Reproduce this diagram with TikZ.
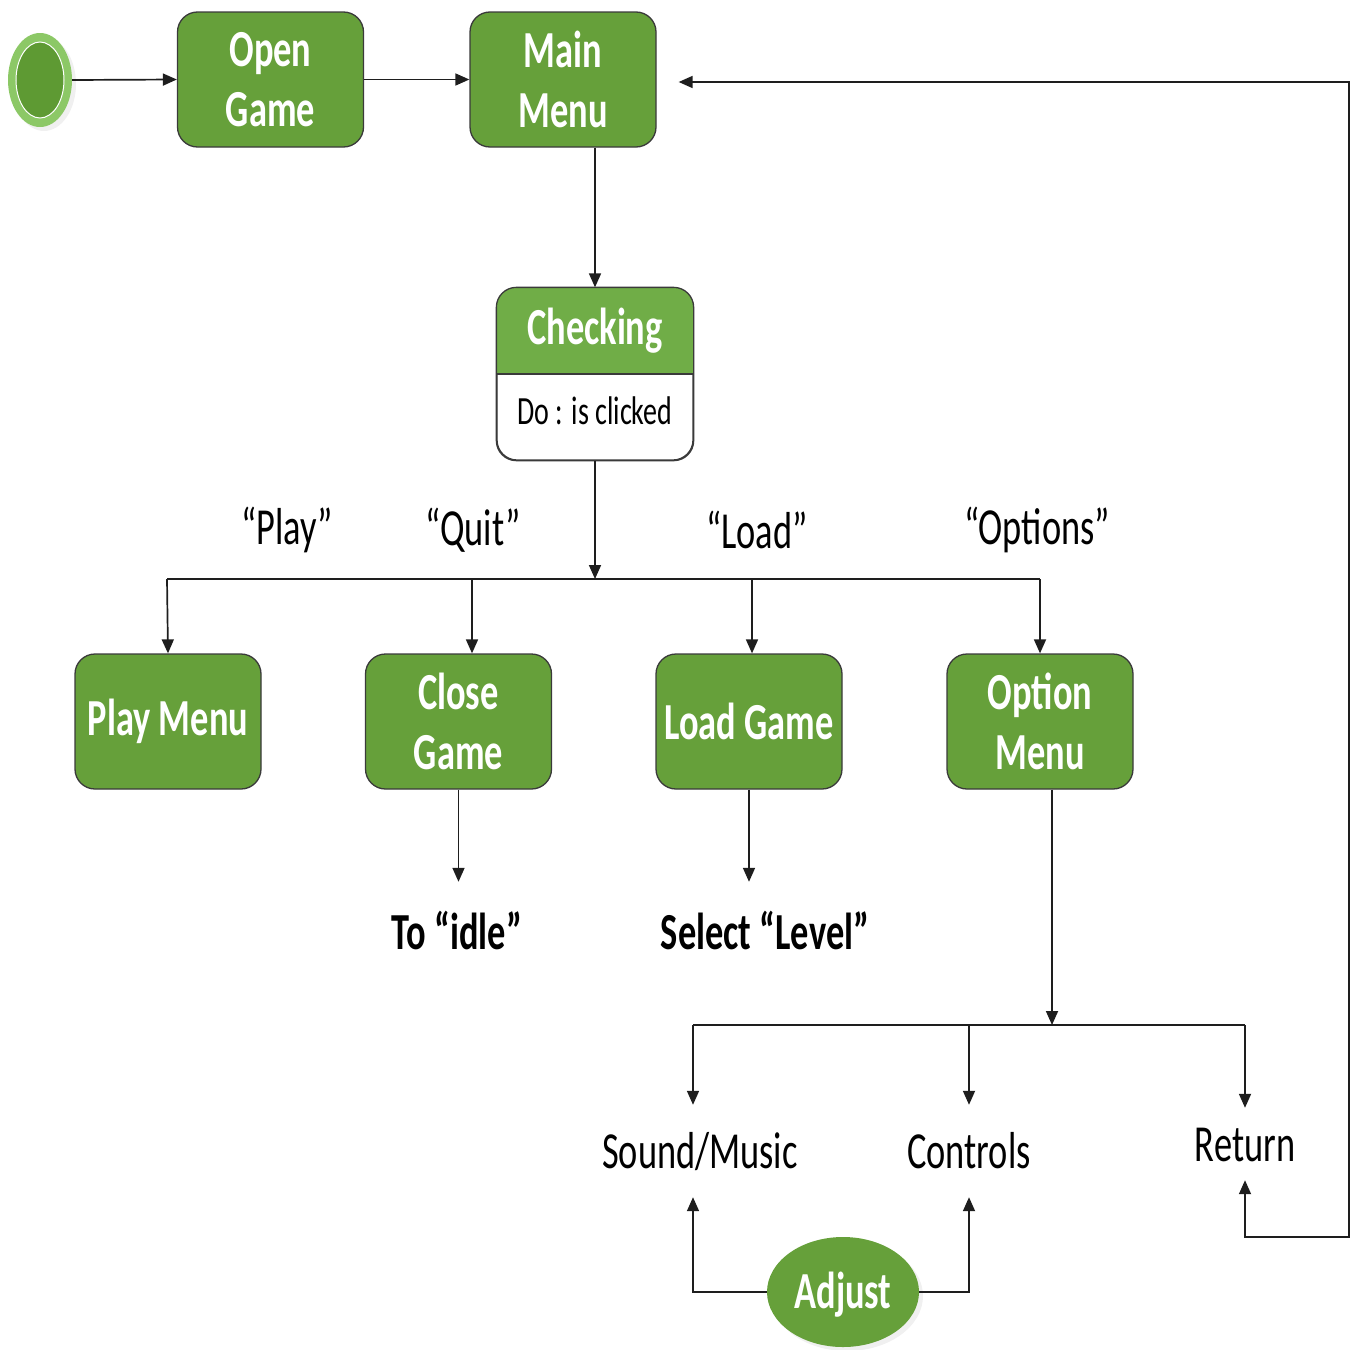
\documentclass[tikz,border=0pt]{standalone}
\usepackage{fontspec}
\setmainfont{Carlito}[FakeStretch=0.7]
\usetikzlibrary{arrows.meta,shapes.geometric,shadows,calc}
\definecolor{boxgreen}{HTML}{66A03A}
\definecolor{headgreen}{HTML}{70AD47}
\definecolor{ringgreen}{HTML}{8CC866}
\definecolor{coregreen}{HTML}{5E9A33}
\definecolor{edgegray}{HTML}{3A3A3A}
\definecolor{linegray}{HTML}{1E1E1E}
\begin{document}
\begin{tikzpicture}[x=1pt,y=-1pt,
  state/.style={draw=edgegray, line width=1.3pt, fill=boxgreen, rounded corners=20pt,
    minimum width=186pt, minimum height=135pt, inner sep=0pt, align=center,
    text=white, font=\bfseries\fontsize{52}{60}\selectfont},
  lbl/.style={inner sep=0pt, font=\fontsize{52}{60}\selectfont, text=black},
  blbl/.style={lbl, font=\bfseries\fontsize{52}{60}\selectfont},
  optlbl/.style={lbl, text height=34pt, text depth=0pt},
  line/.style={draw=linegray, line width=1.7pt},
  arr/.style={line, -{Triangle[length=14pt,width=12pt]}},
  biarr/.style={line, {Triangle[length=14pt,width=12pt]}-{Triangle[length=14pt,width=12pt]}},
  soft/.style={drop shadow={opacity=0.12, shadow xshift=4pt, shadow yshift=-4pt}}
]
\useasboundingbox (0,0) rectangle (1356,1349);

% initial state
\node[ellipse, fill=ringgreen, minimum width=64pt, minimum height=94pt, inner sep=0pt, soft] (start) at (40,80) {};
\node[ellipse, fill=coregreen, draw=white, line width=1pt, minimum width=48pt, minimum height=76pt, inner sep=0pt] (startcore) at (start.center) {};

% top row
\node[state] (open) at (270.5,79.5) {Open\\Game};
\node[state] (main) at (563,79.5) {Main\\Menu};

% checking state with header and activity compartment
\node[draw=edgegray, line width=1.3pt, fill=white, rounded corners=20pt,
      minimum width=196pt, minimum height=172pt, inner sep=0pt] (chk) at (595,374) {};
\fill[headgreen, rounded corners=20pt] (chk.north west) rectangle (chk.east);
\fill[headgreen] ([yshift=22pt]chk.west) rectangle (chk.east);
\draw[draw=edgegray, line width=1.3pt, rounded corners=20pt] (chk.north west) rectangle (chk.south east);
\draw[draw=edgegray, line width=1.3pt] (chk.west) -- (chk.east);
\node[inner sep=0pt, text=white, font=\bfseries\fontsize{52}{60}\selectfont] (chktitle) at (595,331) {Checking};
\node[inner sep=0pt, font=\fontsize{40}{48}\selectfont] (chkdo) at (595,411) {Do : is clicked};

% second row
\node[state] (play) at (168,721.5) {Play Menu};
\node[state] (close) at (458.5,721.5) {Close\\Game};
\node[state] (load) at (749,721.5) {Load Game};
\node[state] (option) at (1040,721.5) {Option\\Menu};

% choice labels
\node[lbl] (lplay) at (287,530) {“Play”};
\node[lbl] (lquit) at (473,530) {“Quit”};
\node[lbl] (lload) at (757,530) {“Load”};
\node[lbl] (lopts) at (1037,530) {“Options”};

% results
\node[blbl, text height=34pt, text depth=0pt, minimum height=100pt] (idle) at (457,932) {To “idle”};
\node[blbl, text height=34pt, text depth=0pt, minimum height=100pt] (level) at (765,932) {Select “Level”};

% option entries
\node[optlbl, minimum height=92pt] (sound) at (700,1151) {Sound/Music};
\node[optlbl, minimum height=92pt] (controls) at (969,1151) {Controls};
\node[optlbl, minimum height=72pt] (return) at (1245,1144) {Return};

\node[ellipse, fill=boxgreen, minimum width=152pt, minimum height=110pt, inner sep=0pt,
      text=white, font=\bfseries\fontsize{52}{60}\selectfont, soft] (adjust) at (843,1292) {};
\node[inner sep=0pt, text=white, font=\bfseries\fontsize{52}{60}\selectfont] (adjtext) at (843,1295) {Adjust};

% junction points
\coordinate (split) at (595,579);
\coordinate (splitL) at (167,579);
\coordinate (splitR) at (1040,579);
\coordinate (dquit) at (472,579);
\coordinate (dload) at (752,579);
\coordinate (ob) at (1052,1025);
\coordinate (b1) at (693,1025);
\coordinate (b2) at (969,1025);
\coordinate (b3) at (1245,1025);
\coordinate (loopc) at (1349,1237);

% connectors
\draw[arr] (start.east) -- (open.west);
\draw[arr] (open.east) -- (main.west);
\draw[arr] (chk.north |- main.south) -- (chk.north);
\draw[arr] (chk.south) -- (split);
\draw[line] (splitL) -- (splitR);
\draw[arr] (splitL) -- (play.north);
\draw[arr] (dquit) -- (dquit |- close.north);
\draw[arr] (dload) -- (dload |- load.north);
\draw[arr] (splitR) -- (option.north);

\draw[arr] (close.south) -- (close.south |- idle.north);
\draw[arr] (load.south) -- (load.south |- level.north);

\draw[arr] (ob |- option.south) -- (ob);
\draw[line] (b1) -- (b3);
\draw[arr] (b1) -- (b1 |- sound.north);
\draw[arr] (b2) -- (b2 |- controls.north);
\draw[arr] (b3) -- (return.north);

\draw[arr] (adjust.west) -| (b1 |- sound.south);
\draw[arr] (adjust.east) -| (b2 |- controls.south);

\draw[biarr] (return.south) |- (loopc) |- ([xshift=22pt,yshift=-2.5pt]main.east);
\end{tikzpicture}
\end{document}
